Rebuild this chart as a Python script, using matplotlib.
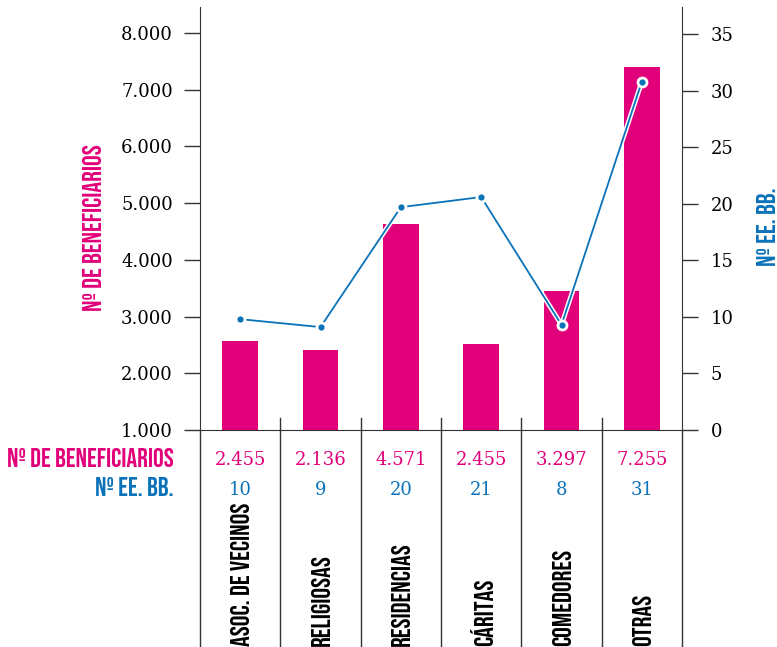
import matplotlib.pyplot as plt
import matplotlib.patheffects as pe
from matplotlib import font_manager as fm

# datos
categorias = ['ASOC. DE VECINOS', 'RELIGIOSAS', 'RESIDENCIAS', 'CÁRITAS', 'COMEDORES', 'OTRAS']
beneficiarios_barra = [2570, 2410, 4630, 2520, 3450, 7400]
entidades_linea = [9.8, 9.1, 19.7, 20.6, 9.3, 30.8]
beneficiarios_tabla = ['2.455', '2.136', '4.571', '2.455', '3.297', '7.255']
entidades_tabla = ['10', '9', '20', '21', '8', '31']
ticks_izq = [1000, 2000, 3000, 4000, 5000, 6000, 7000, 8000]
etiquetas_izq = ['1.000', '2.000', '3.000', '4.000', '5.000', '6.000', '7.000', '8.000']
ticks_der = [0, 5, 10, 15, 20, 25, 30, 35]

MAGENTA = '#e2007a'
AZUL = '#0a72b9'
GRIS = '#333333'
SERIF = 'DejaVu Serif'


def fuente_condensada():
    # fuente estrecha para rótulos: la primera que esté instalada
    por_nombre = {f.fname.split('/')[-1]: f.fname for f in fm.fontManager.ttflist}
    for archivo, tam in [('BebasNeue-Regular.ttf', 19.3), ('BarlowCondensed-SemiBold.ttf', 15),
                         ('AsapCondensed-Bold.ttf', 14), ('DejaVuSansCondensed-Bold.ttf', 13)]:
        if archivo in por_nombre:
            return fm.FontProperties(fname=por_nombre[archivo], size=tam)
    return fm.FontProperties(family='DejaVu Sans', weight='bold', size=12)


fig = plt.figure(figsize=(7.77, 6.47), dpi=100)
ax = fig.add_axes([200 / 777, 1 - 430 / 647, 482 / 777, 423 / 647])
x = list(range(len(categorias)))

ax.bar(x, beneficiarios_barra, width=0.44, color=MAGENTA, zorder=2)
ax.set_xlim(-0.5, 5.5)
ax.set_ylim(1000, 8460)
ax.set_xticks([])
ax.set_yticks(ticks_izq)
ax.set_yticklabels(etiquetas_izq, fontfamily=SERIF)
ax.tick_params(axis='y', direction='out', length=11.5, width=1, pad=8,
               labelsize=13, color=GRIS)
for lado in ['top', 'right']:
    ax.spines[lado].set_visible(False)
for lado in ['left', 'bottom']:
    ax.spines[lado].set_color(GRIS)

# eje derecho: entidades
ax2 = ax.twinx()
ax2.set_ylim(0, 37.4)
ax2.set_yticks(ticks_der)
ax2.set_yticklabels([str(t) for t in ticks_der], fontfamily=SERIF)
ax2.tick_params(axis='y', direction='out', length=11.5, width=1, pad=9,
                labelsize=13, color=GRIS)
for lado in ['top', 'left', 'bottom']:
    ax2.spines[lado].set_visible(False)
ax2.spines['right'].set_color(GRIS)

ax2.plot(x, entidades_linea, color=AZUL, lw=1.3, zorder=3,
         path_effects=[pe.Stroke(linewidth=3.5, foreground='white'), pe.Normal()])
ax2.plot(x, entidades_linea, 'o', ms=6.5, mfc=AZUL, mec='white', mew=2, zorder=4)

# separadores de la tabla
tr = ax.get_xaxis_transform()
for b in [i - 0.5 for i in range(len(categorias) + 1)]:
    ax.plot([b, b], [0, -0.52], transform=tr, clip_on=False, color=GRIS, lw=1)
    if 0 < b < 5:
        ax.plot([b, b], [0, 0.028], transform=tr, clip_on=False, color=GRIS, lw=1)

f_cond = fuente_condensada()

for i in x:
    ax.text(i, -0.0827, beneficiarios_tabla[i], transform=tr, ha='center', va='baseline',
            fontsize=13, color=MAGENTA, family=SERIF)
    ax.text(i, -0.1537, entidades_tabla[i], transform=tr, ha='center', va='baseline',
            fontsize=13, color=AZUL, family=SERIF)
    ax.text(i, -0.51, categorias[i], transform=tr, ha='center', va='bottom',
            rotation=90, fontproperties=f_cond, color='black')

fig.text(174 / 777, 1 - 467 / 647, 'Nº DE BENEFICIARIOS', ha='right', va='baseline',
         fontproperties=f_cond, color=MAGENTA)
fig.text(174 / 777, 1 - 496 / 647, 'Nº EE. BB.', ha='right', va='baseline',
         fontproperties=f_cond, color=AZUL)

fig.text(93 / 777, 1 - 228 / 647, 'Nº DE BENEFICIARIOS', rotation=90, ha='center', va='center',
         fontproperties=f_cond, color=MAGENTA)
fig.text(766 / 777, 1 - 227 / 647, 'Nº EE. BB.', rotation=90, ha='center', va='center',
         fontproperties=f_cond, color=AZUL)

fig.savefig('out.png', dpi=100)
